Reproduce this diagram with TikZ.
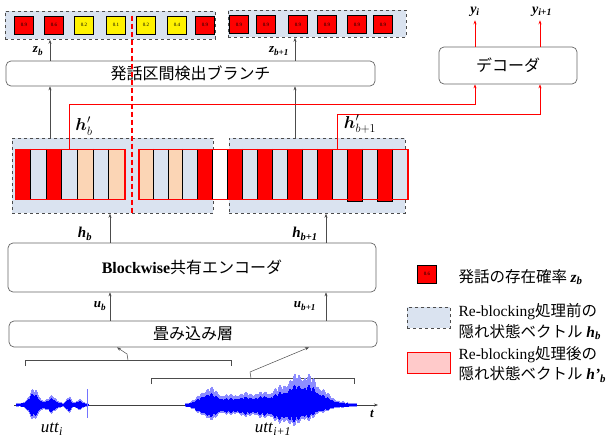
\documentclass[tikz,border=0pt]{standalone}
\usepackage{fontspec}
\usepackage{amsmath}
\setmainfont{Liberation Serif}
\newfontfamily\jp{Noto Sans CJK JP}
\usetikzlibrary{arrows.meta,calc}
\definecolor{lb}{HTML}{DAE3F0}
\definecolor{pe}{HTML}{FBD5B5}
\definecolor{pk}{HTML}{FFCACA}
\newcommand\bi[1]{{\rmfamily\bfseries\itshape #1}}
\newcommand\lbl[2]{\bi{#1}\textsubscript{\bi{#2}}}
\begin{document}
\begin{tikzpicture}[x=1pt,y=-1pt,
  >={Stealth[length=4pt,width=3pt]},
  rbox/.style={draw=black!60, rounded corners=5pt, line width=0.7pt, inner sep=0pt, fill=white},
  hbox/.style={draw=black!70, dashed, fill=lb, line width=0.8pt, inner sep=0pt, anchor=north west},
  sq/.style={draw=black, line width=0.9pt, minimum width=19pt, minimum height=18pt, inner sep=0pt, font=\fontsize{5}{5}\selectfont},
  garr/.style={->, draw=black!70, line width=0.5pt},
  rarr/.style={->, draw=red, line width=1pt},
  sep/.style={draw=black, line width=0.7pt},
  redbox/.style={draw=red, line width=1.5pt, inner sep=0pt, anchor=north west},
  brk/.style={draw=black!70, line width=0.5pt},
  declare function={
    envA(\x)=2+15*exp(-((\x-34)/7)^2)+8*exp(-((\x-52)/6)^2)+8*exp(-((\x-69)/3)^2)+4*exp(-((\x-79)/4)^2);
    envB(\x)=2+16*exp(-((\x-208)/12)^2)+11*exp(-((\x-258)/40)^4)+30*exp(-((\x-305)/22)^2);
    lowB(\x)=2+13*exp(-((\x-208)/12)^2)+10*exp(-((\x-258)/40)^4)+15*exp(-((\x-300)/25)^2);
    jit(\x)=0.7+0.3*abs(sin(\x*37)*cos(\x*11));
  }]
\useasboundingbox (0,0) rectangle (614,441);

% ---------- top probability rows ----------
\node[hbox, minimum width=210pt, minimum height=28pt] (zl) at (5,11) {};
\node[hbox, minimum width=178pt, minimum height=27pt] (zr) at (228,10) {};
\foreach \x/\v/\c [count=\i] in {24/0.9/red,54/0.6/red,84/0.2/yellow,116/0.1/yellow,146/0.2/yellow,177/0.4/yellow,205/0.9/red}
  \node[sq, fill=\c] (sl\i) at (\x,25) {\v};
\foreach \x [count=\i] in {239,266,298,327,357,383}
  \node[sq, fill=red] (sr\i) at (\x,24.5) {0.9};

% ---------- branch and decoder ----------
\node[rbox, minimum width=369pt, minimum height=25pt, font=\jp\fontsize{16}{16}\selectfont] (branch) at (190.5,73.5) {発話区間検出ブランチ};
\node[rbox, minimum width=138pt, minimum height=37pt, font=\jp\fontsize{16}{16}\selectfont] (dec) at (508,65.5) {デコーダ};

% ---------- hidden state blocks ----------
\node[hbox, minimum width=201pt, minimum height=75pt] (hl) at (12,138) {};
\node[hbox, minimum width=176pt, minimum height=75pt] (hr) at (229,138) {};
\foreach \c [count=\i from 0] in {red,lb,red,lb,pe,lb,pe}
  \fill[\c] ({15+\i*109/7},149) rectangle ++(109/7,50);
\foreach \i in {1,...,6}
  \draw[sep] ({15+\i*109/7},149) -- ++(0,50);
\foreach \c [count=\i from 0] in {pe,lb,pe,lb,red,white,red,lb,red,lb,red,lb,red,lb,red,lb,red,lb}
  \fill[\c] ({138+\i*269/18},149) rectangle ++(269/18,50);
\foreach \i in {1,...,17}
  \draw[sep] ({138+\i*269/18},149) -- ++(0,50);
\foreach \i in {14,16}
  \draw[draw=black, line width=0.9pt, fill=red] ({138+\i*269/18},149) rectangle ++(269/18,52);
\node[redbox, minimum width=109pt, minimum height=50pt] (rl) at (15,149) {};
\node[redbox, minimum width=269pt, minimum height=50pt] (rr) at (138,149) {};

% block cut line
\coordinate (cut) at (132,0);
\draw[red, line width=1.1pt, dash pattern=on 5pt off 3pt] (cut |- sl4.north) -- (cut |- hl.south);

% ---------- gray connectors top ----------
\coordinate (ca) at (50,0);
\coordinate (cb) at (295,0);
\draw[garr] (hl.north -| ca) -- (branch.south -| ca);
\draw[garr] (hr.north -| cb) -- (branch.south -| cb);
\draw[garr] (branch.north -| ca) -- (zl.south -| ca);
\draw[garr] (branch.north -| cb) -- (zr.south -| cb);
\node[font=\fontsize{13}{13}\selectfont] (lzb) at (38,51) {\lbl{z}{b}};
\node[font=\fontsize{13}{13}\selectfont] (lzb1) at (279,51) {\lbl{z}{b+1}};

% ---------- red connectors to decoder ----------
\coordinate (pa) at (69,105);
\coordinate (pb) at (337,115);
\coordinate (ya) at (475,0);
\coordinate (yb) at (540,0);
\draw[rarr] (rl.north -| pa) -- (pa) -- (pa -| ya) -- (dec.south -| ya);
\draw[rarr] (rr.north -| pb) -- (pb) -- (pb -| yb) -- (dec.south -| yb);
\node[font=\fontsize{14}{14}\selectfont] (yi) at (475,12) {\lbl{y}{i}};
\node[font=\fontsize{14}{14}\selectfont] (yi1) at (542,12) {\lbl{y}{i+1}};
\draw[rarr] (dec.north -| ya) -- (ya |- yi.south);
\draw[rarr] (dec.north -| yb) -- (yb |- yi1.south);
\node[font=\fontsize{17}{17}\selectfont] (hpb) at (84,126) {$\boldsymbol{h}'_{b}$};
\node[font=\fontsize{17}{17}\selectfont] (hpb1) at (360,124) {$\boldsymbol{h}'_{b+1}$};

% ---------- encoder and convolution ----------
\node[rbox, minimum width=368pt, minimum height=49pt, font=\fontsize{16}{16}\selectfont] (enc) at (192,267.5) {\textbf{Blockwise}{\jp 共有エンコーダ}};
\node[rbox, minimum width=368pt, minimum height=26pt, font=\jp\fontsize{16}{16}\selectfont] (conv) at (193,334) {畳み込み層};
\coordinate (cc) at (110,0);
\coordinate (cd) at (326,0);
\draw[garr] (enc.north -| cc) -- (hl.south -| cc);
\draw[garr] (enc.north -| cd) -- (hr.south -| cd);
\draw[garr] (conv.north -| cc) -- (enc.south -| cc);
\draw[garr] (conv.north -| cd) -- (enc.south -| cd);
\node[font=\fontsize{15}{15}\selectfont] (lhb) at (85,234) {\lbl{h}{b}};
\node[font=\fontsize{15}{15}\selectfont] (lhb1) at (305,234) {\lbl{h}{b+1}};
\node[font=\fontsize{13}{13}\selectfont] (lub) at (100,306) {\lbl{u}{b}};
\node[font=\fontsize{13}{13}\selectfont] (lub1) at (305,306) {\lbl{u}{b+1}};

% ---------- brackets ----------
\coordinate (b1p) at (127,354);
\coordinate (b2p) at (250,372);
\coordinate (t1) at (117,0);
\coordinate (t2) at (309,0);
\draw[brk] (25,366) -- (25,360) -- (231,360) -- (231,366);
\draw[brk] (128,360) -- (b1p);
\draw[garr] (b1p) -- (conv.south -| t1);
\draw[brk] (151,384) -- (151,378) -- (354,378) -- (354,384);
\draw[brk] (251,378) -- (b2p);
\draw[garr] (b2p) -- (conv.south -| t2);

% ---------- waveform ----------
\coordinate (ax0) at (14,405);
\coordinate (ax1) at (378,405);
\draw[->, black!75, line width=0.6pt] (ax0) -- (ax1);
\foreach \x in {16,16.5,...,88} {
  \pgfmathsetmacro\u{envA(\x)*jit(\x)}
  \pgfmathsetmacro\l{0.9*envA(\x)*jit(\x+0.3)}
  \draw[blue!45, line width=0.6pt] (\x,{405-\u}) -- (\x,{405+\l});
  \draw[blue, line width=0.6pt] (\x,{405-0.7*\u}) -- (\x,{405+0.8*\l});
}
\draw[blue!55, line width=0.8pt] (87,389) -- (87,418);
\foreach \x in {185,185.5,...,356} {
  \pgfmathsetmacro\u{envB(\x)*jit(\x)}
  \pgfmathsetmacro\l{lowB(\x)*jit(\x+0.3)}
  \draw[blue!45, line width=0.6pt] (\x,{405-\u}) -- (\x,{405+\l});
  \draw[blue, line width=0.6pt] (\x,{405-0.65*\u}) -- (\x,{405+0.8*\l});
}
\node[font=\fontsize{13}{13}\selectfont] (tl) at (372,414) {\bi{t}};
\node[font=\fontsize{17}{17}\selectfont] (utti) at (52,429) {\textit{utt}\textsubscript{\textit{i}}};
\node[font=\fontsize{17}{17}\selectfont] (utti1) at (273,429) {\textit{utt}\textsubscript{\textit{i+1}}};

% ---------- legend ----------
\node[sq, fill=red] (lg1) at (427,274) {0.6};
\node[anchor=west, font=\jp\fontsize{15.5}{15.5}\selectfont] (lt1) at (455,277) {発話の存在確率 \lbl{z}{b}};
\node[hbox, minimum width=43pt, minimum height=21pt] (lg2) at (407,307) {};
\node[anchor=west, align=left, font=\fontsize{15.5}{21}\selectfont] (lt2) at (455,321.5) {Re-blocking{\jp 処理前の}\\{\jp 隠れ状態ベクトル} \lbl{h}{b}};
\node[draw=red, line width=1.3pt, fill=pk, minimum width=43pt, minimum height=21pt, inner sep=0pt, anchor=north west] (lg3) at (407,352) {};
\node[anchor=west, align=left, font=\fontsize{15.5}{20}\selectfont] (lt3) at (455,364.5) {Re-blocking{\jp 処理後の}\\{\jp 隠れ状態ベクトル} \bi{h'}\textsubscript{\bi{b}}};
\end{tikzpicture}
\end{document}
